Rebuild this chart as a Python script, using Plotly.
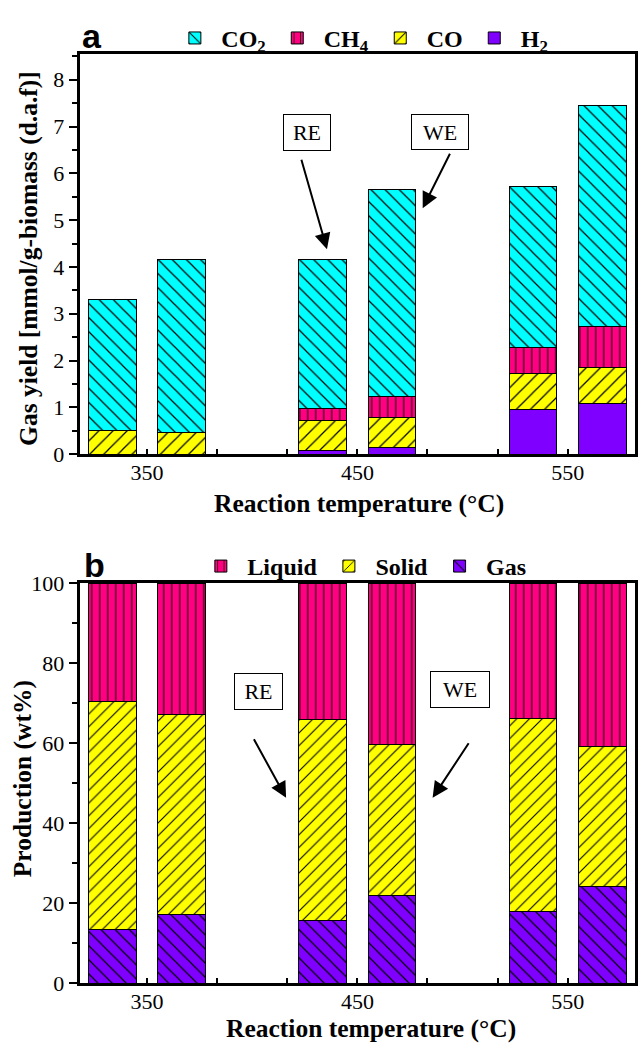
import plotly.graph_objects as go

# ---------------- data ----------------
temperatures = [350, 450, 550]
modes = ["RE", "WE"]          # two bars per temperature: RE (left), WE (right)
mode_offset = {"RE": -16.5, "WE": 16.5}
bar_width = 22.6

# panel a: gas composition, mmol/g-biomass (d.a.f); order RE350, WE350, RE450, WE450, RE550, WE550
h2 = [None, None, 0.08, 0.15, 0.96, 1.09]
co = [0.50, 0.46, 0.63, 0.63, 0.76, 0.77]
ch4 = [None, None, 0.27, 0.45, 0.55, 0.86]
co2 = [2.81, 3.69, 3.18, 4.43, 3.45, 4.72]

# panel b: product distribution, wt%
gas = [13.4, 17.3, 15.7, 21.9, 18.0, 24.3]
solid = [56.9, 49.8, 50.1, 37.8, 48.2, 34.9]
liquid = [29.7, 32.9, 34.2, 40.3, 33.8, 40.8]

# bar x positions derived from temperatures and RE/WE offsets
xpos = [t + mode_offset[m] for t in temperatures for m in modes]

W, H = 638, 1049
SERIF = "Liberation Serif"

CYAN = "#00FFFF"
MAGENTA = "#FF0080"
YELLOW = "#FFFF00"
PURPLE = "#8000FF"


def px(x):
    return x / W


def py(y):
    return 1 - y / H


def pat(shape, color, size):
    if shape is None:
        return dict(shape="")
    return dict(shape=shape, fgcolor="black", bgcolor=color, size=size,
                solidity=0.12, fillmode="replace")


fig = go.Figure()

# ---- panel a (stack bottom -> top)
series_a = [
    ("H<sub>2</sub>", h2, PURPLE, None, 10),
    ("CO", co, YELLOW, "/", 10),
    ("CH<sub>4</sub>", ch4, MAGENTA, "|", 8),
    ("CO<sub>2</sub>", co2, CYAN, "\\", 10),
]
for name, vals, color, shape, size in series_a:
    fig.add_trace(go.Bar(
        x=xpos, y=vals, width=bar_width, name=name,
        marker=dict(color=color, line=dict(color="black", width=1),
                    pattern=pat(shape, color, size)),
        xaxis="x", yaxis="y", legend="legend",
    ))

# ---- panel b
series_b = [
    ("Gas", gas, PURPLE, "\\", 10),
    ("Solid", solid, YELLOW, "/", 9),
    ("Liquid", liquid, MAGENTA, "|", 8),
]
for name, vals, color, shape, size in series_b:
    fig.add_trace(go.Bar(
        x=xpos, y=vals, width=bar_width, name=name,
        marker=dict(color=color, line=dict(color="black", width=1),
                    pattern=pat(shape, color, size)),
        xaxis="x2", yaxis="y2", legend="legend2",
    ))

tickfont = dict(family=SERIF, size=22, color="black")

xcommon = dict(
    range=[318, 582], tickvals=temperatures, ticks="inside", ticklen=5,
    tickwidth=2, tickcolor="black", showline=True, linewidth=3, linecolor="black",
    mirror=True, showgrid=False, zeroline=False, tickfont=tickfont,
    minor=dict(tick0=350, dtick=100 / 3, ticks="inside", ticklen=5, tickwidth=2,
               tickcolor="black", showgrid=False),
    ticklabelstandoff=-4,
)
ycommon = dict(
    ticks="outside", ticklen=8, tickwidth=2, tickcolor="black", showline=True,
    linewidth=3, linecolor="black", mirror=True, showgrid=False, zeroline=False,
    tickfont=tickfont,
)

legfont = dict(family=SERIF, size=24, color="black", weight="bold")
x_dom = [px(80), px(637)]
fig.update_layout(
    width=W, height=H,
    margin=dict(l=0, r=0, t=0, b=0),
    paper_bgcolor="white", plot_bgcolor="white",
    barmode="stack",
    xaxis=dict(domain=x_dom, anchor="y", **xcommon),
    yaxis=dict(domain=[py(453), py(43)], anchor="x", range=[0, 8.55], dtick=1,
               minor=dict(dtick=0.5, ticks="outside", ticklen=5, tickwidth=2,
                          tickcolor="black"), **ycommon),
    xaxis2=dict(domain=x_dom, anchor="y2", **xcommon),
    yaxis2=dict(domain=[py(995), py(585)], anchor="x2", range=[0, 100], dtick=20,
                minor=dict(dtick=10, ticks="outside", ticklen=5, tickwidth=2,
                           tickcolor="black"), **ycommon),
    legend=dict(orientation="h", x=px(362), y=py(27), xanchor="center",
                yanchor="middle", traceorder="reversed", font=legfont,
                bgcolor="rgba(0,0,0,0)", itemwidth=43),
    legend2=dict(orientation="h", x=px(364), y=py(568), xanchor="center",
                 yanchor="middle", traceorder="reversed", font=legfont,
                 bgcolor="rgba(0,0,0,0)", itemwidth=43),
    showlegend=True,
)

ann = []
# panel letters
for letter, (lx, ly) in {"a": (92, 25), "b": (95, 566)}.items():
    ann.append(dict(text=letter, x=px(lx), y=py(ly), xref="paper", yref="paper",
                    showarrow=False, xanchor="center", yanchor="middle",
                    font=dict(family="Liberation Sans", size=34, color="black",
                              weight="bold")))
# axis titles
titlefont = dict(family=SERIF, size=25.5, color="black", weight="bold")
titles = [
    dict(text="Gas yield [mmol/g-biomass (d.a.f)]", x=px(29), y=py(252),
         textangle=-90, font=titlefont),
    dict(text="Reaction temperature (°C)", x=px(360), y=py(504), font=titlefont),
    dict(text="Production (wt%)", x=px(22), y=py(785), textangle=-90, font=titlefont),
    dict(text="Reaction temperature (°C)", x=px(372), y=py(1041), font=titlefont),
]
for a in titles:
    a.update(xref="paper", yref="paper", showarrow=False, xanchor="center",
             yanchor="middle")
ann += titles

# boxed labels
boxfont = dict(family=SERIF, size=22, color="black")
for label, (x0, x1, y0, y1) in [("RE", (284, 331, 105, 141)), ("WE", (413, 470, 105, 140)),
                                ("RE", (235, 283, 678, 714)), ("WE", (432, 491, 676, 712))]:
    ann.append(dict(text=label, x=px((x0 + x1) / 2), y=py((y0 + y1) / 2),
                    xref="paper", yref="paper", showarrow=False,
                    xanchor="center", yanchor="middle", font=boxfont,
                    bordercolor="black", borderwidth=1, borderpad=3,
                    bgcolor="white", width=x1 - x0 - 7, height=y1 - y0 - 7))

# arrows: (tail_x, tail_y, head_x, head_y) in page pixels
for tx, ty, hx, hy in [(302, 152, 328, 243), (452, 145, 424, 201),
                       (254, 745, 287, 805), (471, 749, 434, 805)]:
    ann.append(dict(text="", x=px(hx), y=py(hy), xref="paper", yref="paper",
                    ax=tx - hx, ay=ty - hy, axref="pixel", ayref="pixel",
                    showarrow=True, arrowhead=2, arrowsize=1.6, arrowwidth=2,
                    arrowcolor="black", standoff=0, startstandoff=0))

fig.update_layout(annotations=ann)

fig.write_html("out.html")
